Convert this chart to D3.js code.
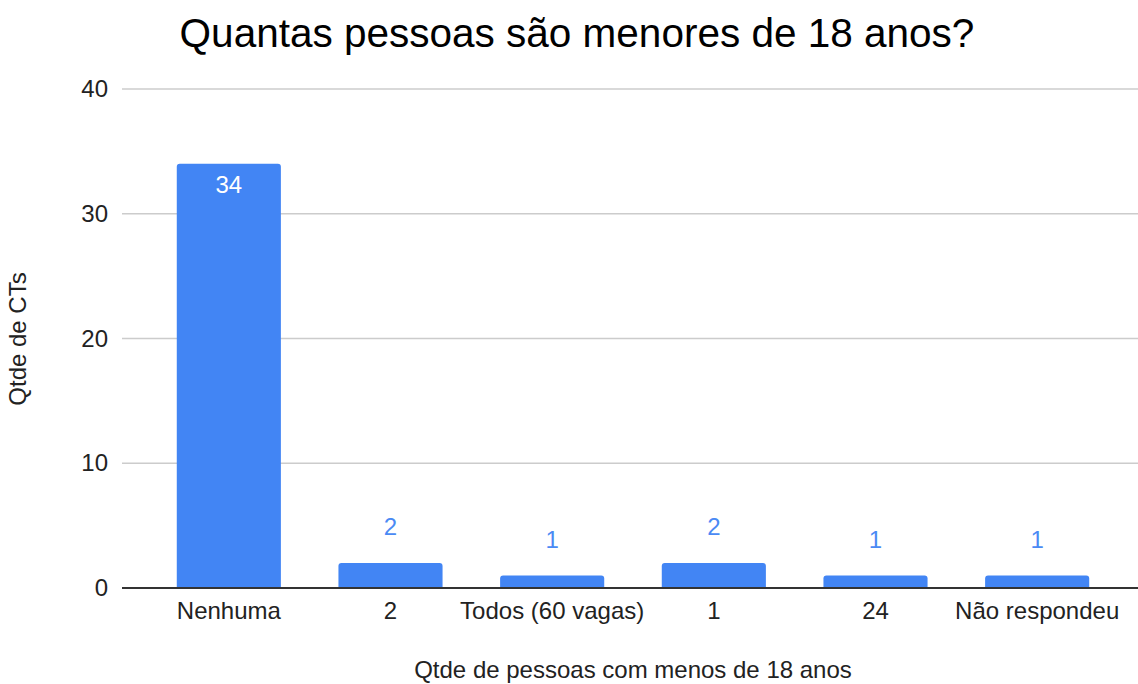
<!DOCTYPE html>
<html>
<head>
<meta charset="utf-8">
<script src="https://cdn.jsdelivr.net/npm/d3@7"></script>
<style>
  body { margin: 0; background: #fff; }
  text { font-family: "Liberation Sans", Arial, sans-serif; }
</style>
</head>
<body>
<svg id="chart" width="1138" height="684"></svg>
<script>
// data
var categories = ["Nenhuma", "2", "Todos (60 vagas)", "1", "24", "Não respondeu"];
var values = [34, 2, 1, 2, 1, 1];
var yTicks = [0, 10, 20, 30, 40];

var svg = d3.select("#chart");
var plotLeft = 122, plotRight = 1138, plotTop = 89, plotBottom = 588;

var x = d3.scaleBand()
  .domain(categories)
  .range([148, 1118])
  .paddingInner(0.356)
  .paddingOuter(0.178);

var y = d3.scaleLinear().domain([0, 40]).range([plotBottom, plotTop]);

// title
svg.append("text")
  .attr("x", 577).attr("y", 47)
  .attr("text-anchor", "middle")
  .attr("font-size", 40.5)
  .attr("fill", "#000")
  .text("Quantas pessoas são menores de 18 anos?");

// gridlines
svg.append("g").selectAll("line")
  .data(yTicks.filter(function (d) { return d > 0; }))
  .enter().append("line")
  .attr("x1", plotLeft).attr("x2", plotRight)
  .attr("y1", function (d) { return y(d); })
  .attr("y2", function (d) { return y(d); })
  .attr("stroke", "#cccccc")
  .attr("stroke-width", 1.3);

// y axis tick labels
var yAxis = d3.axisLeft(y).tickValues(yTicks).tickSize(0).tickPadding(14);
var gy = svg.append("g").attr("transform", "translate(" + plotLeft + ",0)").call(yAxis);
gy.select(".domain").remove();
gy.selectAll("text")
  .attr("font-size", 24)
  .attr("fill", "#222")
  .style("font-family", "'Liberation Sans', Arial, sans-serif");

// bars with rounded tops
function barPath(d, i) {
  var x0 = x(categories[i]), w = x.bandwidth();
  var y0 = y(d), y1 = y(0), r = 3;
  return "M" + x0 + "," + y1 +
    "V" + (y0 + r) +
    "Q" + x0 + "," + y0 + " " + (x0 + r) + "," + y0 +
    "H" + (x0 + w - r) +
    "Q" + (x0 + w) + "," + y0 + " " + (x0 + w) + "," + (y0 + r) +
    "V" + y1 + "Z";
}
svg.append("g").selectAll("path")
  .data(values)
  .enter().append("path")
  .attr("d", barPath)
  .attr("fill", "#4285f4");

// value labels
svg.append("g").selectAll("text")
  .data(values)
  .enter().append("text")
  .attr("x", function (d, i) { return x(categories[i]) + x.bandwidth() / 2; })
  .attr("y", function (d) { return d > 10 ? y(d) + 29 : y(d) - 28; })
  .attr("text-anchor", "middle")
  .attr("font-size", 24)
  .attr("fill", function (d) { return d > 10 ? "#ffffff" : "#4a8af4"; })
  .text(function (d) { return d; });

// baseline
svg.append("line")
  .attr("x1", plotLeft).attr("x2", plotRight)
  .attr("y1", y(0)).attr("y2", y(0))
  .attr("stroke", "#333333")
  .attr("stroke-width", 2);

// x axis category labels
var xAxis = d3.axisBottom(x).tickSize(0).tickPadding(14);
var gx = svg.append("g").attr("transform", "translate(0," + plotBottom + ")").call(xAxis);
gx.select(".domain").remove();
gx.selectAll("text")
  .attr("font-size", 24)
  .attr("fill", "#222")
  .style("font-family", "'Liberation Sans', Arial, sans-serif");

// axis titles
svg.append("text")
  .attr("x", 633).attr("y", 678)
  .attr("text-anchor", "middle")
  .attr("font-size", 24)
  .attr("fill", "#222")
  .text("Qtde de pessoas com menos de 18 anos");

svg.append("text")
  .attr("transform", "translate(26,339) rotate(-90)")
  .attr("text-anchor", "middle")
  .attr("font-size", 24)
  .attr("fill", "#222")
  .text("Qtde de CTs");
</script>
</body>
</html>
